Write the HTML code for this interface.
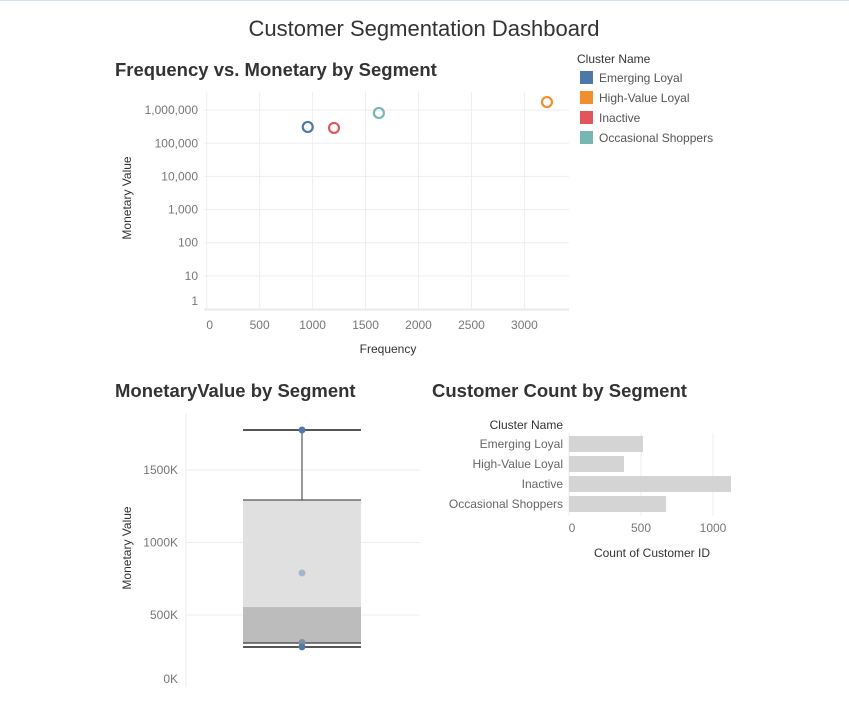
<!DOCTYPE html>
<html><head><meta charset="utf-8"><style>
body{margin:0;background:#fff;width:849px;height:699px;overflow:hidden;font-family:"Liberation Sans",sans-serif;}
svg text{font-family:"Liberation Sans",sans-serif;}
</style></head><body>
<svg id="c" width="849" height="699">
<line x1="0" y1="0.5" x2="849" y2="0.5" stroke="#cfe3f5"/>
<text x="424" y="36" text-anchor="middle" font-size="22" fill="#333">Customer Segmentation Dashboard</text>
<text x="115" y="76" font-size="18.5" font-weight="bold" fill="#333">Frequency vs. Monetary by Segment</text>
<text x="115" y="397" font-size="18.5" font-weight="bold" fill="#333">MonetaryValue by Segment</text>
<text x="432" y="397" font-size="18.5" font-weight="bold" fill="#333">Customer Count by Segment</text>
<g id="scatter"></g>
<g id="legend"></g>
<g id="box"></g>
<g id="bars"></g>
</svg>
<script>
const segments=["Emerging Loyal","High-Value Loyal","Inactive","Occasional Shoppers"];
const colors=["#4e79a7","#f28e2b","#e15759","#76b7b2"];
const frequency=[954,3213,1202,1626];
const monetary=[310000,1750000,290000,820000];
const xTicks=[0,500,1000,1500,2000,2500,3000];
const yTicksLog=[1,10,100,1000,10000,100000,1000000];
const boxStats=[279000,307000,555000,1293000,1776000];
const boxPoints=[1776000,790000,310000,280000];
const boxTicks=[0,500,1000,1500];
const counts=[514,382,1125,674];
const countTicks=[0,500,1000];
const NS="http://www.w3.org/2000/svg";
function mk(p,t,a,txt){const e=document.createElementNS(NS,t);for(const k in a)e.setAttribute(k,a[k]);if(txt!==undefined)e.textContent=txt;p.appendChild(e);return e;}
function fmt(n){return n.toLocaleString('en-US');}
const sc=document.getElementById('scatter');
const sx=v=>206.7+v*0.1059, sy=v=>309-33.15*Math.log10(v);
xTicks.forEach(t=>{
const l=mk(sc,'line',{x1:sx(t),x2:sx(t),y1:92,y2:310,stroke:'#eeeeee'});


const tx=mk(sc,'text',{x:sx(t)+(t===0?3:0),y:329,'text-anchor':'middle','font-size':12,fill:'#777'},String(t));


});
yTicksLog.forEach(t=>{
const l=mk(sc,'line',{x1:204,x2:569,y1:sy(t),y2:sy(t),stroke:'#eeeeee'});


const tx=mk(sc,'text',{x:198,y:sy(t)+(t===1?-4:4),'text-anchor':'end','font-size':12,fill:'#777'},fmt(t));


});
let ax=mk(sc,'line',{x1:204,x2:569,y1:310,y2:310,stroke:'#e6e6e6'});


let t1=mk(sc,'text',{x:388,y:353,'text-anchor':'middle','font-size':12,fill:'#333'},'Frequency');


let t2=mk(sc,'text',{x:131,y:198,'text-anchor':'middle','font-size':12,fill:'#333',transform:'rotate(-90 131 198)'},'Monetary Value');


segments.forEach((s,i)=>{
const c=mk(sc,'circle',{cx:sx(frequency[i]),cy:sy(monetary[i]),r:5,fill:'none',stroke:colors[i],'stroke-width':2.2});


});
const lg=document.getElementById('legend');
let lt=mk(lg,'text',{x:577,y:63,'font-size':12,fill:'#333'},'Cluster Name');


segments.forEach((s,i)=>{
const y=71+i*20;
const r=mk(lg,'rect',{x:580,y:y,width:13,height:13,fill:colors[i]});


const t=mk(lg,'text',{x:599,y:y+11,'font-size':12,fill:'#555'},s);


});
const bx=document.getElementById('box');
const by=v=>687.5-v/1000*0.145;
boxTicks.forEach(t=>{
const l=mk(bx,'line',{x1:186,x2:420,y1:by(t*1000),y2:by(t*1000),stroke:t===0?'none':'#eeeeee'});


const tx=mk(bx,'text',{x:178,y:t===0?683:by(t*1000)+4,'text-anchor':'end','font-size':12,fill:'#777'},t+'K');


});
let bax=mk(bx,'line',{x1:186,x2:186,y1:413,y2:687,stroke:'#eeeeee'});


let bt=mk(bx,'text',{x:131,y:548,'text-anchor':'middle','font-size':12,fill:'#333',transform:'rotate(-90 131 548)'},'Monetary Value');


const [wLo,q1,med,q3,wHi]=boxStats;
let r1=mk(bx,'rect',{x:243,y:by(q3),width:118,height:by(med)-by(q3),fill:'#e0e0e0'});


let r2=mk(bx,'rect',{x:243,y:by(med),width:118,height:by(q1)-by(med),fill:'#bcbcbc'});


let wl=mk(bx,'line',{x1:302,x2:302,y1:by(wHi),y2:by(q3),stroke:'#555','stroke-width':1.2});


[[wHi,2],[q3,1.2],[q1,1.5],[wLo,2]].forEach(([v,w])=>{
const l=mk(bx,'line',{x1:243,x2:361,y1:by(v),y2:by(v),stroke:'#555','stroke-width':w});


});
boxPoints.forEach((v,i)=>{
const c=mk(bx,'circle',{cx:302,cy:by(v),r:3.5,fill:i===1?'#a3b6cc':(i===2?'#7f8fa3':'#5478a6')});


});
const br=document.getElementById('bars');
const bxs=v=>569+v*0.144;
countTicks.forEach(t=>{
const l=mk(br,'line',{x1:bxs(t),x2:bxs(t),y1:433,y2:516,stroke:'#eeeeee'});


const tx=mk(br,'text',{x:bxs(t)+(t===0?3:0),y:532,'text-anchor':'middle','font-size':12,fill:'#777'},String(t));


});
let bh=mk(br,'text',{x:563,y:429,'text-anchor':'end','font-size':12,fill:'#333'},'Cluster Name');


let bxt=mk(br,'text',{x:652,y:557,'text-anchor':'middle','font-size':12,fill:'#333'},'Count of Customer ID');


segments.forEach((s,i)=>{
const cy=444+i*20;
const r=mk(br,'rect',{x:569,y:cy-8,width:bxs(counts[i])-569,height:16,fill:'#d4d4d4'});


const t=mk(br,'text',{x:563,y:cy+4,'text-anchor':'end','font-size':12,fill:'#666'},s);


});
</script>
</body></html>
